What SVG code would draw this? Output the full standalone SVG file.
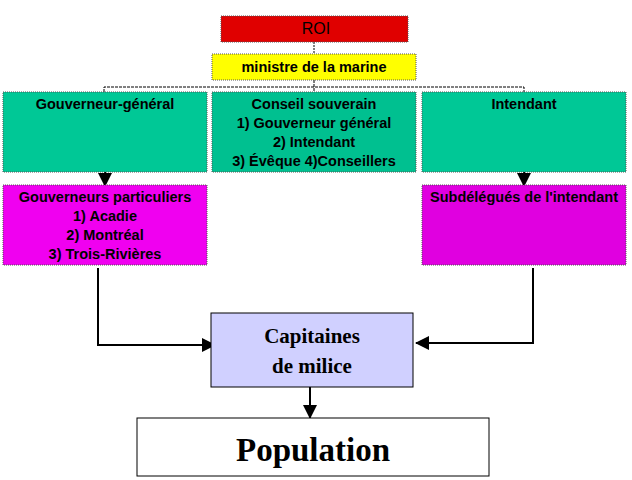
<svg xmlns="http://www.w3.org/2000/svg" width="632" height="480" viewBox="0 0 632 480">
<defs><marker id="ab" markerWidth="14" markerHeight="14" refX="13" refY="7" orient="auto" markerUnits="userSpaceOnUse"><path d="M0,0 L14,7 L0,14 Z" fill="#000"/></marker></defs>
<style>
.t{font-family:"Liberation Sans",Arial,sans-serif;font-weight:bold;font-size:14.5px;text-anchor:middle;fill:#000}
.s{font-family:"Liberation Serif","Times New Roman",serif;font-weight:bold;text-anchor:middle;fill:#000}
.b{stroke:#555;stroke-width:1;stroke-dasharray:1 1}
.l{stroke:#000;stroke-width:2;fill:none}
</style>
<rect width="632" height="480" fill="#fff"/>
<g id="connectors">
<line x1="314" y1="42" x2="314" y2="54" stroke="#000" stroke-dasharray="2 1"/>
<path d="M104,92 V87 H524 V92 M314,80 V92" stroke="#000" fill="none" stroke-dasharray="3 1"/>
<line x1="105" y1="172" x2="105" y2="186" class="l" marker-end="url(#ab)"/>
<line x1="524" y1="172" x2="524" y2="186" class="l" marker-end="url(#ab)"/>
<path d="M98,268 V345 H215" class="l" marker-end="url(#ab)"/>
<path d="M533,268 V343 H416" class="l" marker-end="url(#ab)"/>
<line x1="310" y1="387" x2="310" y2="418" class="l" marker-end="url(#ab)"/>
</g>
<g id="roi"><rect x="221" y="16" width="187" height="26" fill="#e00000" class="b"/><text x="316" y="34" class="t" style="font-weight:normal;font-size:16px">ROI</text></g>
<g id="ministre"><rect x="212" y="54" width="204" height="26" fill="#ffff00" class="b"/><text x="314" y="72" class="t">ministre de la marine</text></g>
<g id="gouverneur"><rect x="3" y="92" width="204" height="80" fill="#00c896" class="b"/><text x="105" y="109" class="t">Gouverneur-général</text></g>
<g id="conseil"><rect x="212" y="92" width="204" height="80" fill="#00c090" class="b"/>
<text class="t"><tspan x="314" y="109">Conseil souverain</tspan><tspan x="314" y="128">1) Gouverneur général</tspan><tspan x="314" y="147">2) Intendant</tspan><tspan x="314" y="166">3) Évêque 4)Conseillers</tspan></text></g>
<g id="intendant"><rect x="422" y="92" width="204" height="80" fill="#00c896" class="b"/><text x="524" y="109" class="t">Intendant</text></g>
<g id="particuliers"><rect x="3" y="185" width="204" height="80" fill="#f000f0" class="b"/>
<text class="t"><tspan x="105" y="202">Gouverneurs  particuliers</tspan><tspan x="105" y="221">1) Acadie</tspan><tspan x="105" y="240">2) Montréal</tspan><tspan x="105" y="259">3) Trois-Rivières</tspan></text></g>
<g id="subdelegues"><rect x="422" y="185" width="204" height="80" fill="#e000e0" class="b"/><text x="524" y="202" class="t">Subdélégués de l'intendant</text></g>
<g id="capitaines"><rect x="211" y="313" width="202" height="74" fill="#d0d0ff" stroke="#000"/>
<text class="s" font-size="21"><tspan x="312" y="343">Capitaines</tspan><tspan x="312" y="373">de milice</tspan></text></g>
<g id="population"><rect x="137" y="418" width="352" height="58" fill="#fff" stroke="#000"/><text x="313" y="461" class="s" font-size="33">Population</text></g>
</svg>
